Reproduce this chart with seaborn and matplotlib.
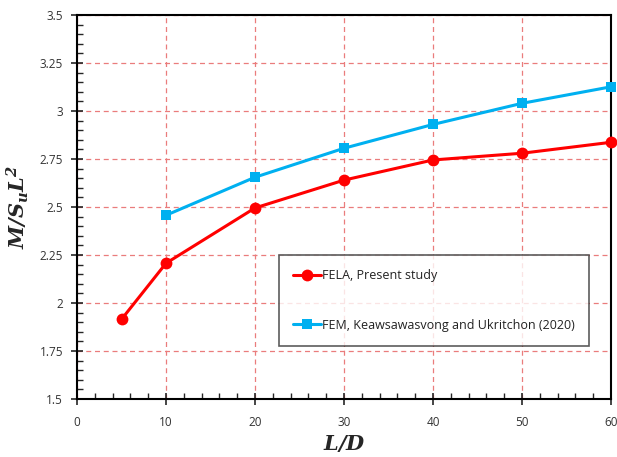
import matplotlib
matplotlib.use("Agg")
import matplotlib.pyplot as plt
import seaborn as sns
import pandas as pd
from matplotlib.ticker import MultipleLocator, FixedLocator, FixedFormatter

# Data
fela_x = [5, 10, 20, 30, 40, 50, 60]
fela_y = [1.915, 2.207, 2.495, 2.640, 2.745, 2.780, 2.837]
fem_x = [10, 20, 30, 40, 50, 60]
fem_y = [2.457, 2.655, 2.806, 2.930, 3.040, 3.126]
fela_label = "FELA, Present study"
fem_label = "FEM, Keawsawasvong and Ukritchon (2020)"
x_ticks = [0, 10, 20, 30, 40, 50, 60]
y_ticks = [1.5, 1.75, 2.0, 2.25, 2.5, 2.75, 3.0, 3.25, 3.5]
y_tick_labels = ["1.5", "1.75", "2", "2.25", "2.5", "2.75", "3", "3.25", "3.5"]

sns.set_style("white")
plt.rcParams['font.family'] = ['Open Sans', 'DejaVu Sans']
plt.rcParams['mathtext.fontset'] = 'dejavuserif'

fig = plt.figure(figsize=(6.17, 4.57), dpi=100)
ax = fig.add_axes([77/617, 1-399/457, (611-77)/617, (399-15)/457])

df1 = pd.DataFrame({"x": fela_x, "y": fela_y})
df2 = pd.DataFrame({"x": fem_x, "y": fem_y})

sns.lineplot(data=df1, x="x", y="y", ax=ax, color="#ff0000", marker="o",
             markersize=8.5, markeredgewidth=0, linewidth=2.2, label=fela_label,
             clip_on=False, zorder=5)
sns.lineplot(data=df2, x="x", y="y", ax=ax, color="#00b0f0", marker="s",
             markersize=7.5, markeredgewidth=0, linewidth=2.2, label=fem_label,
             clip_on=False, zorder=5)

ax.set_xlim(0, 60)
ax.set_ylim(1.5, 3.5)
ax.xaxis.set_major_locator(FixedLocator(x_ticks))
ax.xaxis.set_minor_locator(MultipleLocator(2))
ax.yaxis.set_major_locator(FixedLocator(y_ticks))
ax.yaxis.set_major_formatter(FixedFormatter(y_tick_labels))
ax.yaxis.set_minor_locator(MultipleLocator(0.05))

ax.grid(True, which="major", color="#ea7c7c", linestyle=(0, (4, 3)), linewidth=0.9)
for s in ax.spines.values():
    s.set_color("black")
    s.set_linewidth(1.5)

ax.tick_params(axis="both", which="major", direction="inout", length=8, width=1.2,
               labelsize=8.5, labelcolor="#333333", bottom=True, left=True)
ax.tick_params(axis="both", which="minor", direction="in", length=4, width=1.0,
               bottom=True, left=True)
ax.tick_params(axis="x", which="major", pad=8)
ax.tick_params(axis="y", which="major", pad=6)

ax.set_xlabel(r"$\mathbfit{L/D}$", fontsize=15, labelpad=4)
ax.set_ylabel(r"$\mathbfit{M/S_uL^2}$", fontsize=15, labelpad=6)

leg = ax.legend(loc="upper left", bbox_to_anchor=((279-77)/534, (399-255)/384),
                frameon=True, fancybox=False, fontsize=9, labelspacing=2.9,
                handlelength=2.2, handletextpad=0.05, borderpad=1.15,
                borderaxespad=0)
leg.get_frame().set_edgecolor("#333333")
leg.get_frame().set_linewidth(1.2)
leg.set_zorder(10)
for t in leg.get_texts():
    t.set_color("#222222")

fig.savefig("out.png", dpi=100)
